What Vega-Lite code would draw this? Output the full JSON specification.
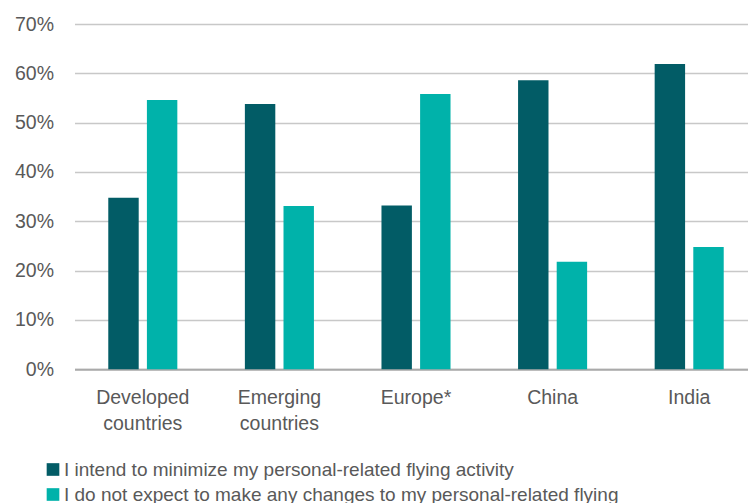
{
  "$schema": "https://vega.github.io/schema/vega-lite/v6.json",
  "autosize": {"type": "none"},
  "width": 683,
  "height": 345.3,
  "padding": {"left": 74.5, "top": 24, "right": 0, "bottom": 133.7},
  "background": "white",
  "config": {
    "view": {"stroke": null},
    "font": "Liberation Sans",
    "axis": {"labelFont": "Liberation Sans", "labelColor": "#595959"},
    "legend": {"labelFont": "Liberation Sans"}
  },
  "data": {
    "values": [
      {"region": "Developed countries", "series": "I intend to minimize my personal-related flying activity", "value": 34.8},
      {"region": "Developed countries", "series": "I do not expect to make any changes to my personal-related flying", "value": 54.6},
      {"region": "Emerging countries", "series": "I intend to minimize my personal-related flying activity", "value": 53.8},
      {"region": "Emerging countries", "series": "I do not expect to make any changes to my personal-related flying", "value": 33.1},
      {"region": "Europe*", "series": "I intend to minimize my personal-related flying activity", "value": 33.2},
      {"region": "Europe*", "series": "I do not expect to make any changes to my personal-related flying", "value": 55.8},
      {"region": "China", "series": "I intend to minimize my personal-related flying activity", "value": 58.6},
      {"region": "China", "series": "I do not expect to make any changes to my personal-related flying", "value": 21.8},
      {"region": "India", "series": "I intend to minimize my personal-related flying activity", "value": 61.9},
      {"region": "India", "series": "I do not expect to make any changes to my personal-related flying", "value": 24.8}
    ]
  },
  "mark": {"type": "bar"},
  "encoding": {
    "x": {
      "field": "region",
      "type": "nominal",
      "sort": ["Developed countries", "Emerging countries", "Europe*", "China", "India"],
      "scale": {"paddingInner": 0.4945, "paddingOuter": 0.2473},
      "axis": {
        "title": null,
        "labelAngle": 0,
        "labelFontSize": 19.5,
        "labelLineHeight": 26,
        "labelPadding": 19,
        "labelExpr": "split(datum.label, ' ')",
        "ticks": false,
        "domainColor": "#aaaaaa",
        "domainWidth": 2,
        "labelLimit": 0
      }
    },
    "xOffset": {
      "field": "series",
      "type": "nominal",
      "sort": ["I intend to minimize my personal-related flying activity", "I do not expect to make any changes to my personal-related flying"],
      "scale": {"paddingInner": 0.2124, "paddingOuter": 0}
    },
    "y": {
      "field": "value",
      "type": "quantitative",
      "scale": {"domain": [0, 70], "nice": false},
      "axis": {
        "title": null,
        "values": [0, 10, 20, 30, 40, 50, 60, 70],
        "labelExpr": "datum.value + '%'",
        "labelFontSize": 19.5,
        "labelPadding": 21,
        "ticks": false,
        "domain": false,
        "gridColor": "#c8c8c8",
        "gridWidth": 1.5
      }
    },
    "color": {
      "field": "series",
      "type": "nominal",
      "sort": ["I intend to minimize my personal-related flying activity", "I do not expect to make any changes to my personal-related flying"],
      "scale": {"range": ["#025c66", "#00b2aa"]},
      "legend": {
        "title": null,
        "orient": "none",
        "legendX": -31,
        "legendY": 436,
        "padding": 0,
        "symbolType": "square",
        "symbolSize": 160,
        "symbolStrokeWidth": 0,
        "labelFontSize": 19,
        "labelColor": "#595959",
        "labelOffset": 1.5,
        "labelLimit": 0,
        "rowPadding": 5
      }
    }
  }
}
